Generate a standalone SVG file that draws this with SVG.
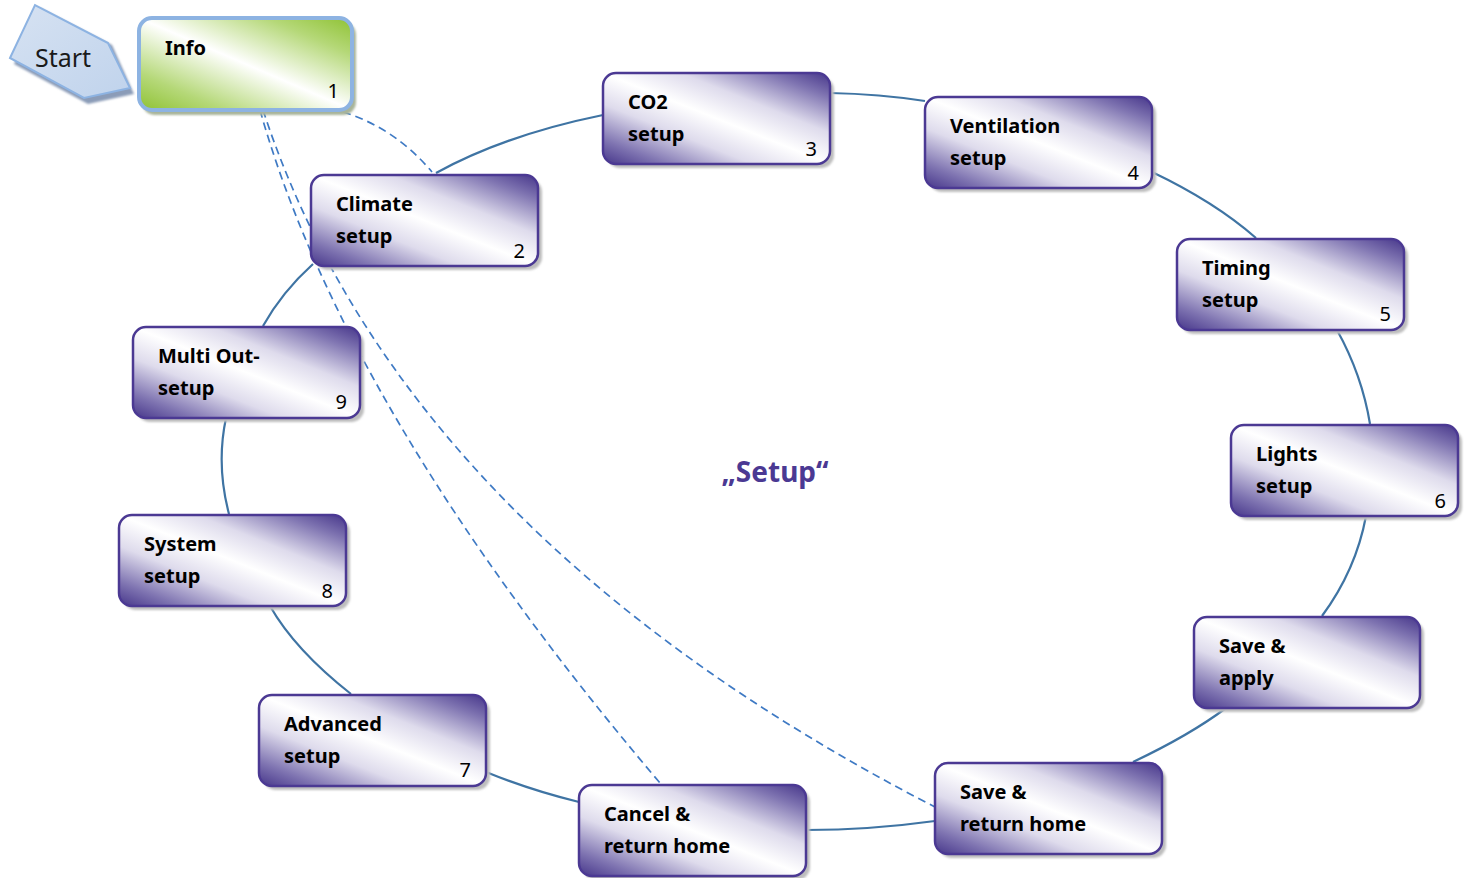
<svg xmlns="http://www.w3.org/2000/svg" width="1464" height="878" viewBox="0 0 1464 878">
<defs>
<linearGradient id="gp" x1="1" y1="0" x2="0" y2="1">
<stop offset="0" stop-color="#46368a"/>
<stop offset="0.13" stop-color="#7d72b0"/>
<stop offset="0.33" stop-color="#dedbec"/>
<stop offset="0.5" stop-color="#ffffff"/>
<stop offset="0.67" stop-color="#dedbec"/>
<stop offset="0.87" stop-color="#7d72b0"/>
<stop offset="1" stop-color="#46368a"/>
</linearGradient>
<linearGradient id="gg" x1="1" y1="0" x2="0" y2="1">
<stop offset="0" stop-color="#8fc234"/>
<stop offset="0.2" stop-color="#b5d878"/>
<stop offset="0.5" stop-color="#ffffff"/>
<stop offset="0.8" stop-color="#b5d878"/>
<stop offset="1" stop-color="#8fc234"/>
</linearGradient>
<linearGradient id="gs" x1="0" y1="0" x2="1" y2="1">
<stop offset="0" stop-color="#d6e2f2"/>
<stop offset="1" stop-color="#c0d3ec"/>
</linearGradient>
<filter id="blur" x="-10%" y="-10%" width="120%" height="130%"><feGaussianBlur stdDeviation="1"/></filter>
</defs>
<style>
.sh{fill:#bdbdbd;filter:url(#blur)}
.box{fill:url(#gp);stroke:#4b3993;stroke-width:2.5}
.t{font-family:"Noto Sans","Open Sans","DejaVu Sans",sans-serif;font-weight:bold;font-size:20px;fill:#000}
.n{font-family:"Noto Sans","Open Sans","DejaVu Sans",sans-serif;font-size:20px;fill:#000;text-anchor:end}
.c{fill:none;stroke:#3f74a3;stroke-width:2.2}
.d{fill:none;stroke:#3f7ac4;stroke-width:1.7;stroke-dasharray:8 5}
</style>
<rect width="1464" height="878" fill="#fff"/>

<g id="connectors">
<path class="c" d="M436,173 Q505,135 603,115"/>
<path class="c" d="M830,93 Q880,94 925,101"/>
<path class="c" d="M1152,172 Q1215,202 1256,238"/>
<path class="c" d="M1337,330 Q1362,375 1370,424"/>
<path class="c" d="M1366,516 Q1356,570 1322,616"/>
<path class="c" d="M1226,708 Q1190,735 1133,762"/>
<path class="c" d="M935,821 Q870,830 806,830"/>
<path class="c" d="M579,802 Q530,790 486,772"/>
<path class="c" d="M351,694 Q295,650 270,606"/>
<path class="c" d="M229,514 Q216,465 226,418"/>
<path class="c" d="M263,326 Q282,292 313,264"/>
<path class="d" d="M343,112 Q395,128 432,172"/>
<path class="d" d="M260,110 Q345,412 660,783"/>
<path class="d" d="M263,110 Q401,532 935,807"/>
</g>

<g id="start">
<polygon points="14,64 40,8 112,45 134,94 88,104" fill="#8b9cb8" filter="url(#blur)"/>
<polygon points="10,58 35,5 108,43 130,88 84,98" fill="url(#gs)" stroke="#8db3e2" stroke-width="2"/>
<text x="63" y="67" font-family="'Noto Sans','Open Sans',sans-serif" font-size="25" fill="#1a1a1a" text-anchor="middle">Start</text>
</g>

<g id="n1">
<rect class="sh" x="142" y="22" width="214" height="93" rx="13" style="fill:#a8b49a"/>
<rect x="139" y="18" width="213" height="92" rx="13" fill="url(#gg)" stroke="#8db3e2" stroke-width="4"/>
<text class="t" x="165" y="55">Info</text>
<text class="n" x="339" y="98">1</text>
</g>

<g id="n2">
<rect class="sh" x="315" y="179" width="227" height="91" rx="13"/>
<rect class="box" x="311" y="175" width="227" height="91" rx="13"/>
<text class="t" x="336" y="211">Climate</text>
<text class="t" x="336" y="243">setup</text>
<text class="n" x="525" y="258">2</text>
</g>

<g id="n3">
<rect class="sh" x="607" y="77" width="227" height="91" rx="13"/>
<rect class="box" x="603" y="73" width="227" height="91" rx="13"/>
<text class="t" x="628" y="109">CO2</text>
<text class="t" x="628" y="141">setup</text>
<text class="n" x="817" y="156">3</text>
</g>

<g id="n4">
<rect class="sh" x="929" y="101" width="227" height="91" rx="13"/>
<rect class="box" x="925" y="97" width="227" height="91" rx="13"/>
<text class="t" x="950" y="133">Ventilation</text>
<text class="t" x="950" y="165">setup</text>
<text class="n" x="1139" y="180">4</text>
</g>

<g id="n5">
<rect class="sh" x="1181" y="243" width="227" height="91" rx="13"/>
<rect class="box" x="1177" y="239" width="227" height="91" rx="13"/>
<text class="t" x="1202" y="275">Timing</text>
<text class="t" x="1202" y="307">setup</text>
<text class="n" x="1391" y="321">5</text>
</g>

<g id="n6">
<rect class="sh" x="1235" y="429" width="227" height="91" rx="13"/>
<rect class="box" x="1231" y="425" width="227" height="91" rx="13"/>
<text class="t" x="1256" y="461">Lights</text>
<text class="t" x="1256" y="493">setup</text>
<text class="n" x="1446" y="508">6</text>
</g>

<g id="n-save-apply">
<rect class="sh" x="1198" y="621" width="226" height="91" rx="13"/>
<rect class="box" x="1194" y="617" width="226" height="91" rx="13"/>
<text class="t" x="1219" y="653">Save &amp;</text>
<text class="t" x="1219" y="685">apply</text>
</g>

<g id="n-save-return">
<rect class="sh" x="939" y="767" width="227" height="91" rx="13"/>
<rect class="box" x="935" y="763" width="227" height="91" rx="13"/>
<text class="t" x="960" y="799">Save &amp;</text>
<text class="t" x="960" y="831">return home</text>
</g>

<g id="n-cancel">
<rect class="sh" x="583" y="789" width="227" height="91" rx="13"/>
<rect class="box" x="579" y="785" width="227" height="91" rx="13"/>
<text class="t" x="604" y="821">Cancel &amp;</text>
<text class="t" x="604" y="853">return home</text>
</g>

<g id="n7">
<rect class="sh" x="263" y="699" width="227" height="91" rx="13"/>
<rect class="box" x="259" y="695" width="227" height="91" rx="13"/>
<text class="t" x="284" y="731">Advanced</text>
<text class="t" x="284" y="763">setup</text>
<text class="n" x="471" y="777">7</text>
</g>

<g id="n8">
<rect class="sh" x="123" y="519" width="227" height="91" rx="13"/>
<rect class="box" x="119" y="515" width="227" height="91" rx="13"/>
<text class="t" x="144" y="551">System</text>
<text class="t" x="144" y="583">setup</text>
<text class="n" x="333" y="598">8</text>
</g>

<g id="n9">
<rect class="sh" x="137" y="331" width="227" height="91" rx="13"/>
<rect class="box" x="133" y="327" width="227" height="91" rx="13"/>
<text class="t" x="158" y="363">Multi Out-</text>
<text class="t" x="158" y="395">setup</text>
<text class="n" x="347" y="409">9</text>
</g>

<text id="title" x="775" y="482" font-family="'Noto Sans','Open Sans',sans-serif" font-weight="bold" font-size="28" fill="#4b3993" text-anchor="middle">„Setup“</text>
</svg>
